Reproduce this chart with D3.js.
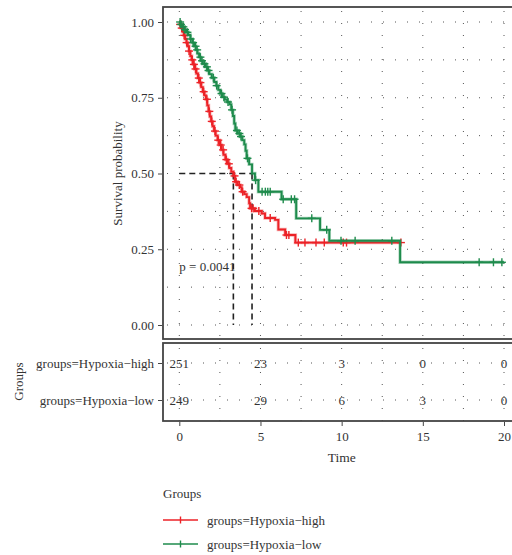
<!DOCTYPE html>
<html>
<head>
<meta charset="utf-8">
<script src="https://cdn.jsdelivr.net/npm/d3@7"></script>
<style>
  html, body { margin: 0; padding: 0; background: #fff; }
  svg text { font-family: "Liberation Serif", "DejaVu Serif", serif; fill: #333; }
</style>
</head>
<body>
<svg id="chart" width="512" height="555"></svg>
<script>
// Kaplan–Meier step estimates: [time, survival] after each event
const highSteps = [
  [0,1],[0.05,0.992],[0.12,0.98],[0.2,0.968],[0.28,0.956],[0.36,0.944],[0.44,0.932],
  [0.52,0.92],[0.6,0.904],[0.68,0.888],[0.76,0.875],[0.86,0.86],[0.95,0.845],[1.05,0.83],
  [1.15,0.815],[1.25,0.8],[1.35,0.785],[1.45,0.77],[1.55,0.758],[1.64,0.745],[1.72,0.725],
  [1.8,0.705],[1.88,0.688],[1.96,0.672],[2.05,0.656],[2.14,0.64],[2.24,0.625],[2.36,0.61],
  [2.48,0.594],[2.6,0.578],[2.72,0.562],[2.84,0.546],[2.96,0.532],[3.08,0.518],[3.2,0.506],
  [3.33,0.492],[3.43,0.473],[3.6,0.462],[3.74,0.455],[3.84,0.44],[4.0,0.432],[4.15,0.422],
  [4.3,0.402],[4.36,0.385],[4.66,0.376],[5.07,0.368],[5.28,0.353],[5.9,0.347],[6.1,0.315],
  [6.52,0.297],[7.15,0.272]
];
const highEnd = 13.65;
const highCensor = [0.05,0.15,0.3,0.45,0.6,0.8,0.9,1.0,1.2,1.3,1.5,1.7,1.85,2.0,2.2,2.4,2.55,
  2.7,2.9,3.05,3.4,3.5,3.7,3.9,4.45,4.55,4.9,5.6,6.6,6.75,7.33,7.74,8.42,8.93,10.1,10.3,13.65];

const lowSteps = [
  [0,1],[0.08,0.992],[0.18,0.984],[0.3,0.975],[0.42,0.966],[0.55,0.957],[0.68,0.944],
  [0.8,0.932],[0.92,0.92],[1.02,0.908],[1.12,0.896],[1.22,0.884],[1.32,0.872],[1.45,0.862],
  [1.6,0.852],[1.72,0.84],[1.85,0.828],[2.0,0.816],[2.15,0.802],[2.28,0.79],[2.4,0.776],
  [2.52,0.764],[2.65,0.752],[2.8,0.744],[2.95,0.736],[3.1,0.728],[3.2,0.71],[3.3,0.69],
  [3.38,0.665],[3.45,0.642],[3.6,0.632],[3.75,0.622],[3.88,0.61],[4.0,0.596],[4.08,0.575],
  [4.15,0.55],[4.3,0.53],[4.48,0.5],[4.66,0.478],[4.87,0.44],[6.3,0.415],[7.2,0.352],
  [8.67,0.314],[9.24,0.278],[13.6,0.207]
];
const lowEnd = 20;
const lowCensor = [0.05,0.1,0.25,0.35,0.5,0.7,0.85,1.0,1.1,1.3,1.4,1.55,1.7,1.8,2.1,2.3,2.6,
  2.75,3.0,3.25,3.55,3.7,3.8,4.2,4.7,5.1,5.3,5.45,5.6,6.4,6.9,7.1,8.16,9.08,9.96,10.83,13.09,
  18.47,19.35,19.87];

// Numbers at risk
const riskTimes = [0, 5, 10, 15, 20];
const riskHigh = [251, 23, 3, 0, 0];
const riskLow = [249, 29, 6, 3, 0];

const groupNames = ["groups=Hypoxia\u2212high", "groups=Hypoxia\u2212low"];
const groupColors = ["#ec2227", "#1e8b4c"];
const yTicks = [0, 0.25, 0.5, 0.75, 1];
const xTicks = [0, 5, 10, 15, 20];
const pLabel = "p = 0.0041";

const FS = 13;
const FONT = "Liberation Serif, DejaVu Serif, serif";

const svg = d3.select("#chart");
const x = d3.scaleLinear().domain([0, 20]).range([179.3, 504]);
const y = d3.scaleLinear().domain([0, 1]).range([325, 22]);

const panel = { left: 163, top: 7, bottom: 339, right: 540 };
const table = { top: 343, bottom: 421 };
const rowY = d3.scalePoint().domain(groupNames).range([363, 400]);

const gridStyle = sel => sel.attr("stroke", "#555").attr("stroke-width", 1)
  .attr("stroke-dasharray", "1 11");

// Survival panel grid
const gridX = d3.range(0, 20.01, 2.5);
const gridY = d3.range(0, 1.001, 0.125);
const grid = svg.append("g");
grid.selectAll("line.v").data(gridX).join("line")
  .attr("x1", d => x(d)).attr("x2", d => x(d))
  .attr("y1", panel.top + 4).attr("y2", panel.bottom).call(gridStyle);
grid.selectAll("line.h").data(gridY).join("line")
  .attr("y1", d => y(d)).attr("y2", d => y(d))
  .attr("x1", panel.left + 4).attr("x2", panel.right).call(gridStyle);

// Risk table grid
const tgrid = svg.append("g");
tgrid.selectAll("line.v").data(gridX).join("line")
  .attr("x1", d => x(d)).attr("x2", d => x(d))
  .attr("y1", table.top + 5).attr("y2", table.bottom).call(gridStyle);
tgrid.selectAll("line.h").data(groupNames).join("line")
  .attr("y1", d => rowY(d)).attr("y2", d => rowY(d))
  .attr("x1", panel.left + 4).attr("x2", panel.right).call(gridStyle);

// Median survival guides
function median(steps) {
  const s = steps.find(d => d[1] <= 0.5);
  return s ? s[0] : null;
}
const medians = [median(highSteps), median(lowSteps)];
const medG = svg.append("g").attr("stroke", "#222").attr("stroke-width", 1.6)
  .attr("stroke-dasharray", "6 4").attr("fill", "none");
medG.append("line").attr("x1", x(0)).attr("x2", x(d3.max(medians)))
  .attr("y1", y(0.5)).attr("y2", y(0.5));
medG.selectAll("line.m").data(medians).join("line")
  .attr("x1", d => x(d)).attr("x2", d => x(d))
  .attr("y1", y(0.5)).attr("y2", y(0));

// Survival curves
const line = d3.line().x(d => x(d[0])).y(d => y(d[1])).curve(d3.curveStepAfter);
function survAt(steps, t) {
  let s = 1;
  for (const d of steps) { if (d[0] <= t) s = d[1]; else break; }
  return s;
}
const groups = [
  { steps: highSteps, end: highEnd, censor: highCensor, color: groupColors[0] },
  { steps: lowSteps, end: lowEnd, censor: lowCensor, color: groupColors[1] }
];
groups.forEach(g => {
  const pts = g.steps.concat([[g.end, g.steps[g.steps.length - 1][1]]]);
  svg.append("path").datum(pts).attr("d", line).attr("fill", "none")
    .attr("stroke", g.color).attr("stroke-opacity", 0.35).attr("stroke-width", 3.4);
  svg.append("path").datum(pts).attr("d", line).attr("fill", "none")
    .attr("stroke", g.color).attr("stroke-width", 1.9);
  const cg = svg.append("g").attr("stroke", g.color).attr("stroke-width", 1.4);
  g.censor.forEach(t => {
    const cx = x(t), cy = y(survAt(g.steps, t));
    cg.append("line").attr("x1", cx - 4).attr("x2", cx + 4).attr("y1", cy).attr("y2", cy);
    cg.append("line").attr("x1", cx).attr("x2", cx).attr("y1", cy - 4).attr("y2", cy + 4);
  });
});

// p-value
svg.append("text").attr("x", x(0)).attr("y", 271).attr("font-size", FS).text(pLabel);

// Panel borders
svg.append("rect").attr("x", panel.left).attr("y", panel.top)
  .attr("width", panel.right - panel.left).attr("height", panel.bottom - panel.top)
  .attr("fill", "none").attr("stroke", "#444").attr("stroke-width", 1.8);
svg.append("rect").attr("x", panel.left).attr("y", table.top)
  .attr("width", panel.right - panel.left).attr("height", table.bottom - table.top)
  .attr("fill", "none").attr("stroke", "#444").attr("stroke-width", 1.8);

function styleAxis(g) {
  g.select(".domain").remove();
  g.selectAll(".tick line").attr("stroke", "#444");
  g.selectAll(".tick text").attr("font-size", FS).attr("fill", "#333").attr("font-family", FONT);
}

// Y axis
svg.append("g").attr("transform", `translate(${panel.left - 1},0)`)
  .call(d3.axisLeft(y).tickValues(yTicks).tickFormat(d3.format(".2f")).tickSize(4).tickPadding(4))
  .call(styleAxis);

svg.append("text").attr("transform", `translate(117,${y(0.5)}) rotate(-90)`)
  .attr("text-anchor", "middle").attr("dy", "0.35em").attr("font-size", FS).text("Survival probability");

// Risk table rows
svg.append("g").attr("transform", `translate(${panel.left - 1},0)`)
  .call(d3.axisLeft(rowY).tickSize(4).tickPadding(4))
  .call(styleAxis);

svg.append("text").attr("transform", `translate(18,${(rowY(groupNames[0]) + rowY(groupNames[1])) / 2}) rotate(-90)`)
  .attr("text-anchor", "middle").attr("dy", "0.35em").attr("font-size", FS).text("Groups");

[riskHigh, riskLow].forEach((vals, i) => {
  svg.append("g").selectAll("text").data(vals).join("text")
    .attr("x", (d, j) => x(riskTimes[j])).attr("y", rowY(groupNames[i]))
    .attr("dy", "0.35em").attr("text-anchor", "middle").attr("font-size", FS)
    .attr("fill", "#222").text(d => d);
});

// X axis
svg.append("g").attr("transform", `translate(0,${table.bottom + 1})`)
  .call(d3.axisBottom(x).tickValues(xTicks).tickSize(4).tickPadding(6))
  .call(styleAxis);
svg.append("text").attr("x", x(10)).attr("y", 462).attr("text-anchor", "middle")
  .attr("font-size", 13.5).text("Time");

// Legend
const legend = svg.append("g").attr("transform", "translate(163,0)");
legend.append("text").attr("x", 0).attr("y", 498).attr("font-size", FS).text("Groups");
groupNames.forEach((name, i) => {
  const ly = 520 + i * 24;
  legend.append("line").attr("x1", 0).attr("x2", 35).attr("y1", ly).attr("y2", ly)
    .attr("stroke", groupColors[i]).attr("stroke-width", 1.6);
  legend.append("line").attr("x1", 17.5).attr("x2", 17.5).attr("y1", ly - 3.5).attr("y2", ly + 3.5)
    .attr("stroke", groupColors[i]).attr("stroke-width", 1.4);
  legend.append("text").attr("x", 44).attr("y", ly).attr("dy", "0.35em")
    .attr("font-size", FS).text(name);
});
</script>
</body>
</html>
